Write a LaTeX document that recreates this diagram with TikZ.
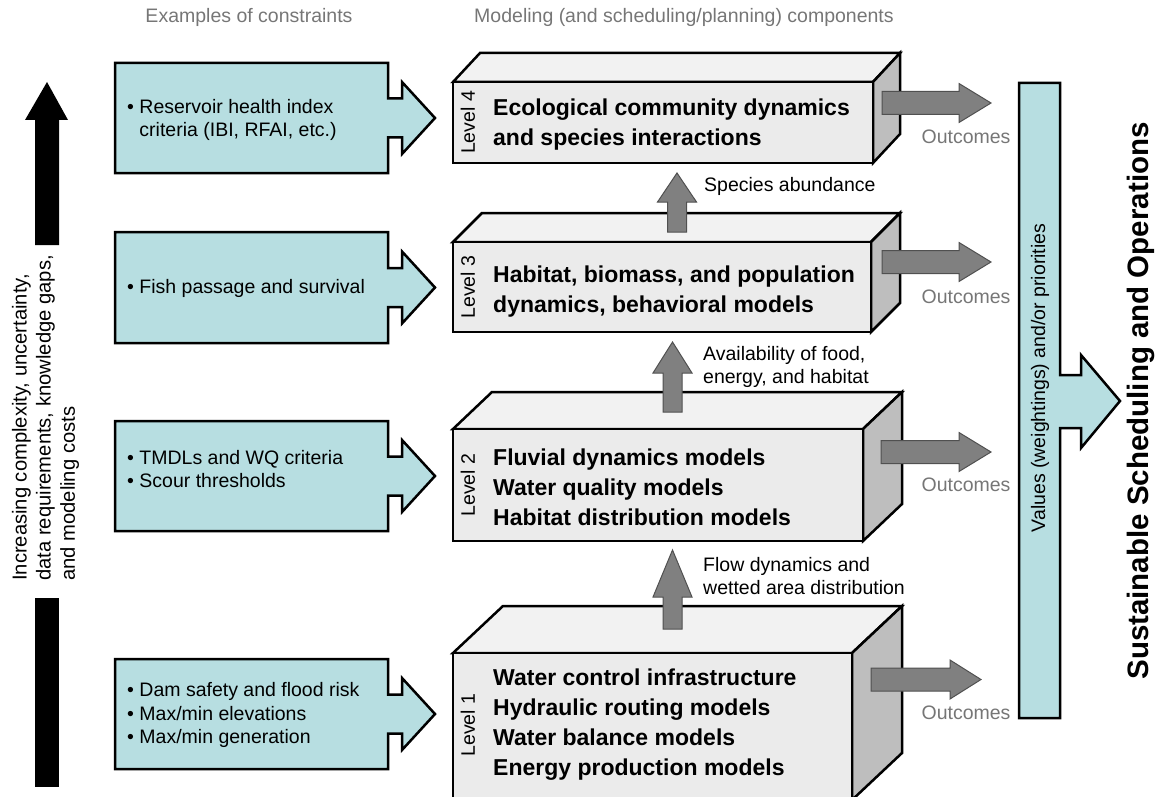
\documentclass[tikz,border=0pt]{standalone}
\usepackage{fontspec}
\setmainfont{Liberation Sans}
\definecolor{cteal}{RGB}{183,222,225}
\definecolor{cfront}{RGB}{235,235,235}
\definecolor{ctop}{RGB}{242,242,242}
\definecolor{cside}{RGB}{190,190,190}
\definecolor{carrow}{RGB}{128,128,128}
\definecolor{carrowline}{RGB}{80,80,80}
\definecolor{cgraytext}{RGB}{118,118,118}

\tikzset{
  lbl/.style={font=\fontsize{19.5}{23.5}\selectfont, inner sep=0pt},
  graylbl/.style={lbl, text=cgraytext},
  boldtxt/.style={font=\fontsize{23}{30}\selectfont\bfseries, inner sep=0pt, align=left, anchor=west},
  consbox/.style={fill=cteal, draw=black, line width=2.5pt},
  face/.style={draw=black, line width=2.5pt},
  garrow/.style={fill=carrow, draw=carrowline, line width=1pt},
}

% name, xl, yt, xr, yb, dx, dy
\newcommand\mycube[7]{%
  \filldraw[face,fill=ctop] (#2,#3) -- (#2+#6,#3-#7) -- (#4+#6,#3-#7) -- (#4,#3) -- cycle;
  \filldraw[face,fill=cside] (#4,#3) -- (#4+#6,#3-#7) -- (#4+#6,#5-#7) -- (#4,#5) -- cycle;
  \filldraw[face,fill=cfront] (#2,#3) rectangle (#4,#5);
  \coordinate (#1-nw) at (#2,#3);
  \coordinate (#1-se) at (#4,#5);
}
% cx, tip, base, bottom
\newcommand\uparr[4]{%
  \filldraw[garrow] (#1,#2) -- (#1+19.5,#3) -- (#1+9.5,#3) -- (#1+9.5,#4) -- (#1-9.5,#4) -- (#1-9.5,#3) -- (#1-19.5,#3) -- cycle;
}
% x0, hx, tip, cy
\newcommand\rarr[4]{%
  \filldraw[garrow] (#1,#4-11.5) -- (#2,#4-11.5) -- (#2,#4-19.5) -- (#3,#4) -- (#2,#4+19.5) -- (#2,#4+11.5) -- (#1,#4+11.5) -- cycle;
}
% yt, yb, ym
\newcommand\consshape[3]{%
  \filldraw[consbox] (115,#1) -- (388,#1) -- (388,#3-19.5) -- (402,#3-19.5) -- (402,#3-36) -- (435,#3) -- (402,#3+36) -- (402,#3+19.5) -- (388,#3+19.5) -- (388,#2) -- (115,#2) -- cycle;
}

\begin{document}
\begin{tikzpicture}[x=1pt,y=-1pt]
\useasboundingbox (0,0) rectangle (1156,797);

% headers
\node[graylbl] (h1) at (249,17) {Examples of constraints};
\node[graylbl] (h2) at (684,17) {Modeling (and scheduling/planning) components};

% left black arrow
\fill[black] (47,82) -- (68,120) -- (59,120) -- (59,245) -- (35,245) -- (35,120) -- (25,120) -- cycle;
\fill[black] (35,598) rectangle (59,787);
\node[inner sep=0pt, font=\fontsize{20.2}{24.2}\selectfont, rotate=90, anchor=west, align=left] (incr) at (45.5,581)
  {Increasing complexity, uncertainty,\\data requirements, knowledge gaps,\\and modeling costs};

% constraint boxes
\consshape{63}{173}{118}
\node[lbl, anchor=west, align=left] (c4) at (127,120)
  {• Reservoir health index\\\phantom{• }criteria (IBI, RFAI, etc.)};
\consshape{232}{343}{287.5}
\node[lbl, anchor=west, align=left] (c3) at (127,288) {• Fish passage and survival};
\consshape{421}{531}{476}
\node[lbl, anchor=west, align=left] (c2) at (127,469)
  {• TMDLs and WQ criteria\\• Scour thresholds};
\consshape{659}{769}{714}
\node[lbl, anchor=west, align=left] (c1) at (127,715)
  {• Dam safety and flood risk\\• Max/min elevations\\• Max/min generation};

% cubes
\mycube{L1}{453}{653}{852}{800}{50}{47}
\mycube{L2}{453}{429}{863}{541}{39}{37}
\mycube{L3}{453}{242}{871}{332}{29}{29}
\mycube{L4}{453}{82}{873}{163}{27}{29}

% level labels
\node[lbl, rotate=90] (lv4) at (468,122.5) {Level 4};
\node[lbl, rotate=90] (lv3) at (468,287) {Level 3};
\node[lbl, rotate=90] (lv2) at (468,485) {Level 2};
\node[lbl, rotate=90] (lv1) at (468,725) {Level 1};

% level texts
\node[boldtxt] (t4) at (493,125) {Ecological community dynamics\\and species interactions};
\node[boldtxt] (t3) at (493,292) {Habitat, biomass, and population\\dynamics, behavioral models};
\node[boldtxt] (t2) at (493,487) {Fluvial dynamics models\\Water quality models\\Habitat distribution models};
\node[boldtxt] (t1) at (493,725) {Water control infrastructure\\Hydraulic routing models\\Water balance models\\Energy production models};

% vertical arrows between levels
\uparr{677}{173}{202}{232}
\uparr{672.5}{342}{373}{412}
\uparr{672.5}{550}{597}{629}
\node[lbl, anchor=west] (s34) at (704,186) {Species abundance};
\node[lbl, anchor=west, align=left] (s23) at (703,367) {Availability of food,\\energy, and habitat};
\node[lbl, anchor=west, align=left] (s12) at (703,576) {Flow dynamics and\\wetted area distribution};

% outcome arrows
\rarr{882}{959}{991}{103}
\rarr{882}{959}{991}{262}
\rarr{881}{959}{991}{452}
\rarr{871}{950}{981}{679.5}
\node[graylbl] (o4) at (966,137) {Outcomes};
\node[graylbl] (o3) at (966,297) {Outcomes};
\node[graylbl] (o2) at (966,485) {Outcomes};
\node[graylbl] (o1) at (966,713) {Outcomes};

% values bar
\filldraw[consbox] (1019,83) -- (1060,83) -- (1060,375) -- (1081,375) -- (1081,355) -- (1120,401) -- (1081,448) -- (1081,428) -- (1060,428) -- (1060,718) -- (1019,718) -- cycle;
\node[lbl, rotate=90] (vals) at (1040,378) {Values (weightings) and/or priorities};
\node[inner sep=0pt, rotate=90, font=\fontsize{29.5}{32}\selectfont\bfseries] (sso) at (1141,401) {Sustainable Scheduling and Operations};
\end{tikzpicture}
\end{document}
